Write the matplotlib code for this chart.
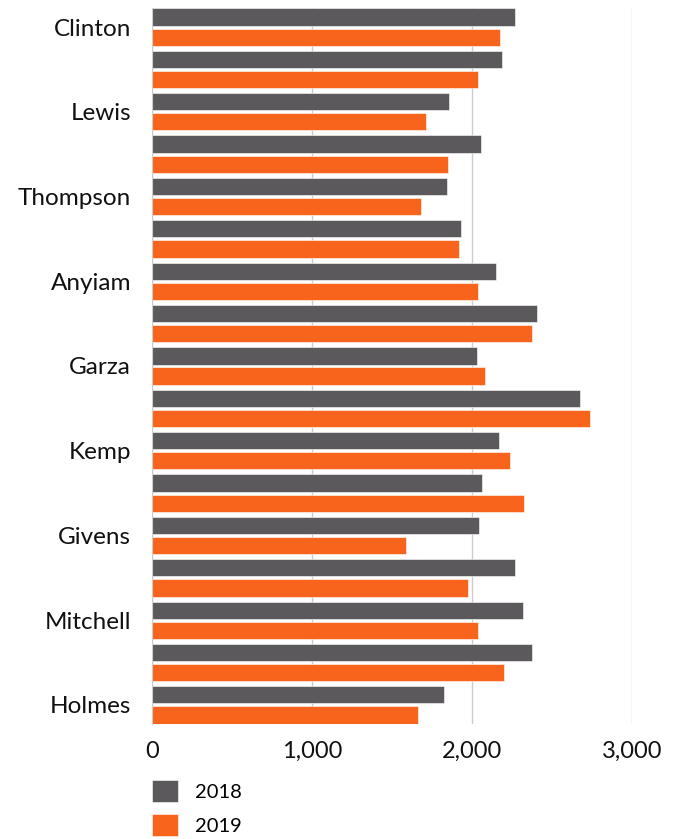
import numpy as np
import matplotlib
matplotlib.use('Agg')
import matplotlib.pyplot as plt

# names shown on the axis (every other row has no visible label)
names = ['Clinton', '', 'Lewis', '', 'Thompson', '', 'Anyiam', '', 'Garza', '',
         'Kemp', '', 'Givens', '', 'Mitchell', '', 'Holmes']
sales_2018 = [2268, 2185, 1856, 2055, 1843, 1932, 2152, 2408, 2031, 2674,
              2171, 2061, 2042, 2271, 2316, 2376, 1824]
sales_2019 = [2174, 2039, 1711, 1848, 1684, 1918, 2039, 2376, 2082, 2739,
              2238, 2322, 1590, 1977, 2037, 2198, 1665]
xticks = [0, 1000, 2000, 3000]

gray = '#5b595c'
orange = '#f8641b'

plt.rcParams['font.family'] = ['Lato', 'DejaVu Sans']

fig = plt.figure(figsize=(6.76, 8.39), dpi=100)
ax = fig.add_axes([152/676, 1 - 724/839, (632 - 152)/676, 716/839])

y = np.arange(len(names))
h = 0.406
ax.barh(y - 0.238, sales_2018, height=h, color=gray, label='2018',
        edgecolor='white', linewidth=0.4)
ax.barh(y + 0.238, sales_2019, height=h, color=orange, label='2019',
        edgecolor='white', linewidth=0.4)

ax.set_xlim(0, 3000)
ax.set_ylim(len(names) - 0.55, -0.45)
ax.set_yticks(y)
ax.set_yticklabels(names, fontsize=17.5, color='#111111')
ax.set_xticks(xticks)
ax.set_xticklabels([f'{v:,}' for v in xticks], fontsize=17, color='#111111')
ax.tick_params(length=0)
ax.tick_params(axis='y', pad=15)
ax.tick_params(axis='x', pad=12)

ax.grid(axis='x', color='#cccccc', linewidth=1)
ax.set_axisbelow(True)
for s in ['top', 'right', 'bottom']:
    ax.spines[s].set_visible(False)
ax.spines['left'].set_color('#cccccc')

fig.legend(loc='upper left', bbox_to_anchor=(152/676, 1 - 780/839),
           frameon=False, fontsize=14.5, handlelength=1.3, handleheight=1.3,
           handletextpad=0.85, labelspacing=0.6, borderpad=0, borderaxespad=0)

plt.savefig('out.png', dpi=100)
